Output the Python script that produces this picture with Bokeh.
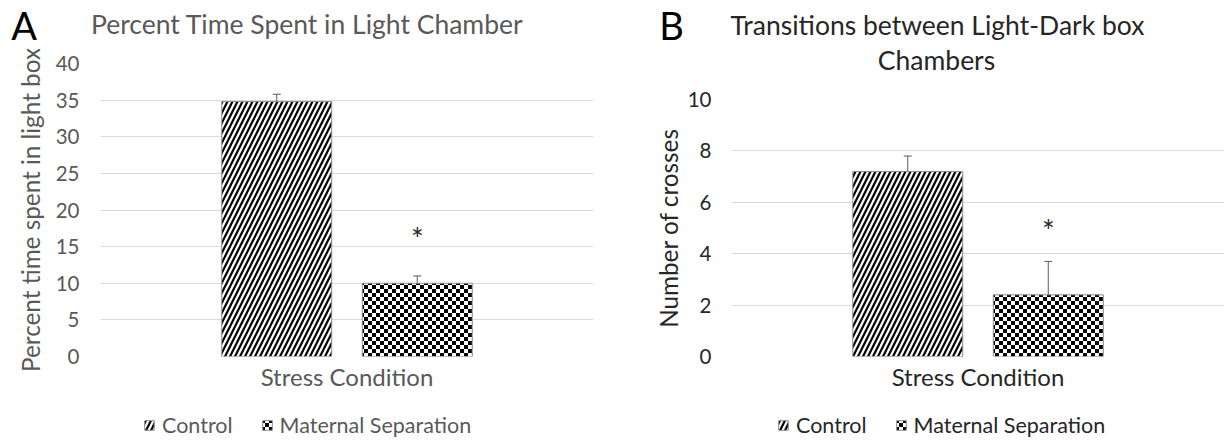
import base64
from bokeh.plotting import figure
from bokeh.models import (ColumnDataSource, FactorRange, Range1d, Whisker, TeeHead, Label,
                          Legend, LegendItem, ImageURLTexture)
from bokeh.transform import dodge
from bokeh.layouts import row, column
from bokeh.embed import file_html
from bokeh.resources import INLINE
from bokeh.core.properties import value

# ---------------- data ----------------
category = ["Stress Condition"]
groups = ["Control", "Maternal Separation"]

a_title = "Percent Time Spent in Light Chamber"
a_ylabel = "Percent time spent in light box"
a_means = [34.8, 10.0]
a_errors = [1.0, 1.0]
a_ticks = [0, 5, 10, 15, 20, 25, 30, 35, 40]
a_star = [16.8]

b_title = ["Transitions between Light-Dark box", "Chambers"]
b_ylabel = "Number of crosses"
b_means = [7.2, 2.4]
b_errors = [0.6, 1.3]
b_ticks = [0, 2, 4, 6, 8, 10]
b_star = [5.1]

FONT = "Lato"
OFFSETS = [-0.1425, 0.1425]
BAR_W = 0.223
GRAY = "#595959"
DARK = "#262626"

_svg = ("<svg xmlns='http://www.w3.org/2000/svg' width='8' height='8'>"
        "<rect width='8' height='8' fill='white'/>"
        "<rect width='4' height='4' fill='black'/>"
        "<rect x='4' y='4' width='4' height='4' fill='black'/></svg>")
checker = ImageURLTexture(url="data:image/svg+xml;base64," +
                          base64.b64encode(_svg.encode()).decode())

BAR_STYLES = [
    dict(fill_color="white", line_color="#8c8c8c", line_width=1, hatch_color="black",
         hatch_pattern=value("/"), hatch_scale=10, hatch_weight=2.2),
    dict(fill_color="white", line_color="#8c8c8c", line_width=1, hatch_color="black",
         hatch_pattern=value("checker"), hatch_extra={"checker": checker}),
]


def noalign(p):
    if "frame_align" in p.properties():
        p.frame_align = False
    return p


def blank(width, height):
    p = figure(width=width, height=height, title=None, toolbar_location=None,
               output_backend="svg", x_range=Range1d(0, width), y_range=Range1d(height, 0),
               x_axis_type=None, y_axis_type=None, min_border=0)
    p.outline_line_color = None
    return noalign(p)


def main(width, frame_left, frame_w, frame_h, means, errors, ticks, ymax,
         star, ylabel, tcolor, ylab_standoff, tick_standoff):
    top_b, bot_b = 14, 51
    p = figure(width=width, height=top_b + frame_h + bot_b, title=None,
               toolbar_location=None, output_backend="svg",
               x_range=FactorRange(factors=category, range_padding=0),
               y_range=Range1d(0, ymax))
    noalign(p)
    p.min_border_left = frame_left
    p.min_border_right = width - frame_left - frame_w
    p.min_border_top = top_b
    p.min_border_bottom = bot_b
    p.outline_line_color = None
    p.xgrid.grid_line_color = None
    p.ygrid.grid_line_color = "#d9d9d9"
    p.ygrid.grid_line_width = 1
    p.ygrid.ticker = ticks
    p.yaxis.ticker = ticks
    p.yaxis.axis_line_color = None
    p.yaxis.major_tick_line_color = None
    p.yaxis.major_tick_out = 0
    p.yaxis.major_tick_in = 0
    p.yaxis.minor_tick_line_color = None
    p.yaxis.major_label_standoff = tick_standoff
    p.yaxis.major_label_text_font = FONT
    p.yaxis.major_label_text_font_size = "20.5px"
    p.yaxis.major_label_text_color = tcolor
    p.yaxis.axis_label = ylabel
    p.yaxis.axis_label_text_font = FONT
    p.yaxis.axis_label_text_font_size = "24.3px"
    p.yaxis.axis_label_text_font_style = "normal"
    p.yaxis.axis_label_text_color = tcolor
    p.yaxis.axis_label_standoff = ylab_standoff
    p.xaxis.axis_line_color = None
    p.xaxis.major_tick_line_color = None
    p.xaxis.major_tick_out = 0
    p.xaxis.major_tick_in = 0
    p.xaxis.major_label_standoff = 5
    p.xaxis.major_label_text_font = FONT
    p.xaxis.major_label_text_font_size = "24px"
    p.xaxis.major_label_text_color = tcolor

    for i, g in enumerate(groups):
        src = ColumnDataSource(dict(x=category, top=[means[i]],
                                    lo=[means[i]], hi=[means[i] + errors[i]]))
        p.vbar(x=dodge("x", OFFSETS[i], range=p.x_range), top="top", width=BAR_W,
               source=src, **BAR_STYLES[i])
        w = Whisker(base=dodge("x", OFFSETS[i], range=p.x_range), lower="lo", upper="hi",
                    source=src, line_color=GRAY, line_width=1,
                    upper_head=TeeHead(size=8, line_color=GRAY, line_width=1),
                    lower_head=None)
        p.add_layout(w)

    ssrc = ColumnDataSource(dict(x=category, y=star, t=["*"]))
    p.text(x=dodge("x", OFFSETS[1], range=p.x_range), y="y", text="t", source=ssrc,
           text_align="center", text_baseline="middle", text_font_size="30px",
           text_font=value(FONT), text_color=DARK, y_offset=4.5)
    return p


def footer(width, height, legend_x, tcolor):
    p = blank(width, height)
    # off-canvas proxies that only provide the legend keys
    rends = [p.vbar(x=[width + 200], top=[height + 200], bottom=[height + 190], width=1,
                    **BAR_STYLES[i]) for i in range(2)]
    legend = Legend(items=[LegendItem(label=groups[i], renderers=[rends[i]]) for i in range(2)],
                    orientation="horizontal", location=(legend_x, 2),
                    glyph_width=12, glyph_height=12, label_height=12, label_standoff=7,
                    spacing=28, padding=0, margin=0, border_line_color=None,
                    background_fill_alpha=0, label_text_font=FONT,
                    label_text_font_size="21.5px", label_text_color=tcolor)
    p.add_layout(legend)
    return p


def lab(p, x, y, text, size, color, align="left"):
    p.add_layout(Label(x=x, y=y, text=text, text_font=FONT, text_font_size=size,
                       text_color=color, text_align=align, text_baseline="middle"))


# ---------------- panel A ----------------
WA = 615
ha = blank(WA, 49)
lab(ha, 23.5, 24, "A", "38px", "black", "center")
lab(ha, 90.5, 23.5, a_title, "26.5px", GRAY)
ma = main(WA, 100, 493, 293, a_means, a_errors, a_ticks, 40, a_star, a_ylabel, GRAY, 8, 21)
fa = footer(WA, 33, 143, GRAY)

# ---------------- panel B ----------------
WB = 616
hb = blank(WB, 85)
lab(hb, 56, 24.5, "B", "38px", "black", "center")
lab(hb, 322, 24, b_title[0], "26.5px", DARK, "center")
lab(hb, 321, 59, b_title[1], "26.5px", DARK, "center")
mb = main(WB, 116, 493, 257, b_means, b_errors, b_ticks, 10, b_star, b_ylabel, DARK, 2, 20)
fb = footer(WB, 33, 162, DARK)

layout = row(column(ha, ma, fa, spacing=0), column(hb, mb, fb, spacing=0), spacing=0)
open("out.html", "w").write(file_html(layout, INLINE))
